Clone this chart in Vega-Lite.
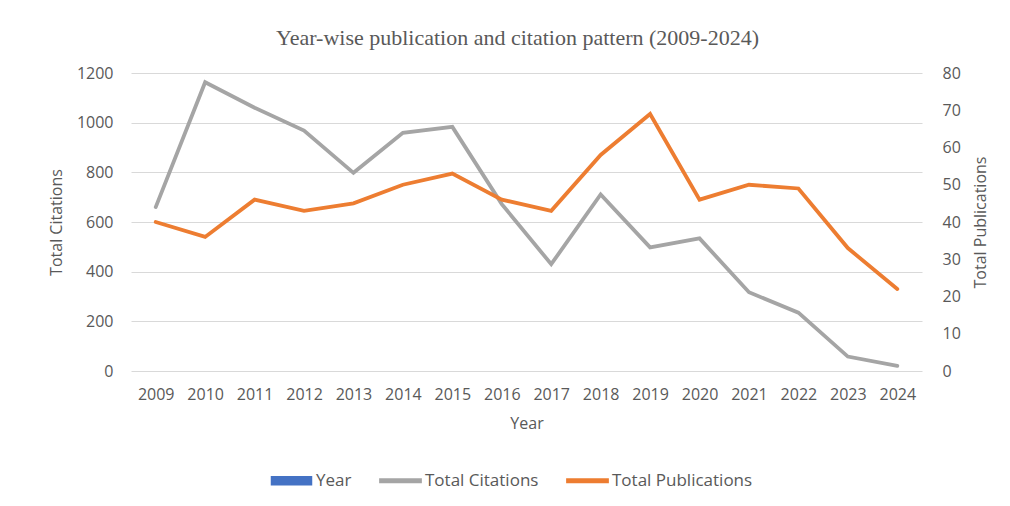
{
  "$schema": "https://vega.github.io/schema/vega-lite/v6.json",
  "width": 791,
  "height": 298,
  "autosize": {"type": "none"},
  "padding": {"left": 131, "top": 73, "right": 88, "bottom": 135},
  "background": "white",
  "title": {
    "text": "Year-wise publication and citation pattern (2009-2024)",
    "font": "Liberation Serif",
    "fontSize": 22,
    "fontWeight": "normal",
    "color": "#595959",
    "anchor": "middle",
    "offset": 15,
    "dx": -9
  },
  "data": {
    "values": [
      {"Year": "2009", "Total Citations": 660, "Total Publications": 40},
      {"Year": "2010", "Total Citations": 1163, "Total Publications": 36},
      {"Year": "2011", "Total Citations": 1060, "Total Publications": 46},
      {"Year": "2012", "Total Citations": 968, "Total Publications": 43},
      {"Year": "2013", "Total Citations": 798, "Total Publications": 45},
      {"Year": "2014", "Total Citations": 959, "Total Publications": 50},
      {"Year": "2015", "Total Citations": 983, "Total Publications": 53},
      {"Year": "2016", "Total Citations": 672, "Total Publications": 46},
      {"Year": "2017", "Total Citations": 430, "Total Publications": 43},
      {"Year": "2018", "Total Citations": 711, "Total Publications": 58},
      {"Year": "2019", "Total Citations": 498, "Total Publications": 69},
      {"Year": "2020", "Total Citations": 534, "Total Publications": 46},
      {"Year": "2021", "Total Citations": 317, "Total Publications": 50},
      {"Year": "2022", "Total Citations": 235, "Total Publications": 49},
      {"Year": "2023", "Total Citations": 58, "Total Publications": 33},
      {"Year": "2024", "Total Citations": 21, "Total Publications": 22}
    ]
  },
  "encoding": {
    "x": {
      "field": "Year",
      "type": "ordinal",
      "title": "Year",
      "axis": {
        "labelAngle": 0,
        "grid": false,
        "domain": false,
        "ticks": false,
        "labelPadding": 15,
        "titlePadding": 13
      }
    }
  },
  "layer": [
    {
      "mark": {"type": "line", "strokeWidth": 3.8, "strokeCap": "round"},
      "encoding": {
        "y": {
          "field": "Total Citations",
          "type": "quantitative",
          "title": "Total Citations",
          "scale": {"domain": [0, 1200], "nice": false},
          "axis": {
            "values": [0, 200, 400, 600, 800, 1000, 1200],
            "format": "d",
            "grid": true,
            "domain": false,
            "ticks": false,
            "labelPadding": 18,
            "titlePadding": 12
          }
        },
        "color": {
          "datum": "Total Citations",
          "type": "nominal",
          "scale": {
            "domain": ["Year", "Total Citations", "Total Publications"],
            "range": ["#4472C4", "#A5A5A5", "#ED7D31"]
          },
          "legend": {
            "title": null,
            "orient": "none",
            "direction": "horizontal",
            "legendX": 139,
            "legendY": 386,
            "columns": 3,
            "columnPadding": 24,
            "symbolSize": 1700,
            "labelOffset": 3,
            "encode": {
              "symbols": {
                "update": {
                  "fill": {"scale": "color", "field": "value"},
                  "stroke": {"value": "transparent"},
                  "shape": {"signal": "datum.value === 'Year' ? 'M-0.97,-0.2L0.97,-0.2L0.97,0.2L-0.97,0.2Z' : 'M-1,-0.09L1,-0.09L1,0.09L-1,0.09Z'"}
                }
              }
            }
          }
        }
      }
    },
    {
      "mark": {"type": "line", "strokeWidth": 3.8, "strokeCap": "round"},
      "encoding": {
        "y": {
          "field": "Total Publications",
          "type": "quantitative",
          "title": "Total Publications",
          "scale": {"domain": [0, 80], "nice": false},
          "axis": {
            "orient": "right",
            "values": [0, 10, 20, 30, 40, 50, 60, 70, 80],
            "grid": false,
            "domain": false,
            "ticks": false,
            "labelPadding": 20,
            "titlePadding": 12,
            "titleAngle": -90,
            "titleBaseline": "top"
          }
        },
        "color": {"datum": "Total Publications", "type": "nominal"}
      }
    }
  ],
  "resolve": {"scale": {"y": "independent"}},
  "config": {
    "view": {"stroke": null},
    "font": "Open Sans",
    "axis": {
      "labelFont": "Open Sans",
      "labelFontSize": 16,
      "labelColor": "#595959",
      "titleFont": "Open Sans",
      "titleFontSize": 16,
      "titleFontWeight": "normal",
      "titleColor": "#595959",
      "gridColor": "#D9D9D9",
      "gridWidth": 1.2
    },
    "legend": {
      "labelFont": "Open Sans",
      "labelFontSize": 17,
      "labelColor": "#595959"
    }
  }
}
